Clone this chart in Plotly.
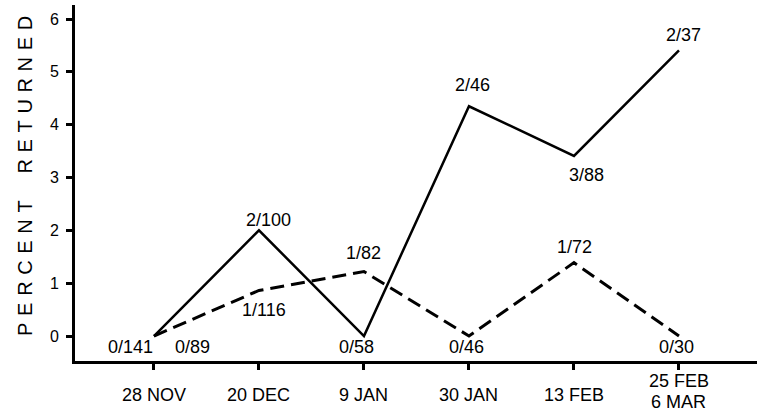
import plotly.graph_objects as go

# Sampling dates (last one spans two dates)
dates = ["28 NOV", "20 DEC", "9 JAN", "30 JAN", "13 FEB", "25 FEB<br>6 MAR"]

# Returned / released counts for each series
solid_returned = [0, 2, 0, 2, 3, 2]
solid_released = [141, 100, 58, 46, 88, 37]
dashed_returned = [0, 1, 1, 0, 1, 0]
dashed_released = [89, 116, 82, 46, 72, 30]

solid_pct = [100 * r / n for r, n in zip(solid_returned, solid_released)]
dashed_pct = [100 * r / n for r, n in zip(dashed_returned, dashed_released)]

y_ticks = [0, 1, 2, 3, 4, 5, 6]

# Label offsets (px) relative to each point
solid_offsets = [(-23, -11), (10, 10), (-7, -11), (4, 21), (13, -19), (5, 15)]
dashed_offsets = [(39, -11), (5, -20), (0, 19), (-2, -11), (1, 16), (-2, -11)]

FONT = "Liberation Sans, Arial, sans-serif"
xs = list(range(len(dates)))

fig = go.Figure()
fig.add_trace(go.Scatter(
    x=xs, y=dashed_pct, mode="lines",
    line=dict(color="black", width=3, dash="14px,7px"),
    hoverinfo="skip", showlegend=False,
))
fig.add_trace(go.Scatter(
    x=xs, y=solid_pct, mode="lines",
    line=dict(color="black", width=2.5),
    hoverinfo="skip", showlegend=False,
))

annotations = []
for ret, rel, pct, xi, (dx, dy) in zip(solid_returned, solid_released, solid_pct, xs, solid_offsets):
    annotations.append(dict(x=xi, y=pct, text=f"{ret}/{rel}", showarrow=False,
                            xshift=dx, yshift=dy, font=dict(size=18, family=FONT, color="black")))
for ret, rel, pct, xi, (dx, dy) in zip(dashed_returned, dashed_released, dashed_pct, xs, dashed_offsets):
    annotations.append(dict(x=xi, y=pct, text=f"{ret}/{rel}", showarrow=False,
                            xshift=dx, yshift=dy, font=dict(size=18, family=FONT, color="black")))

# Date labels under the axis; two-line labels are stacked tightly
for xi, d in zip(xs, dates):
    lines = d.split("<br>")
    if len(lines) == 1:
        shifts = [-34]
    else:
        shifts = [-20 - 21 * k for k in range(len(lines))]
    for line, sh in zip(lines, shifts):
        annotations.append(dict(x=xi, xref="x", y=0, yref="paper", yanchor="middle",
                                yshift=sh, text=line, showarrow=False,
                                font=dict(size=18, family=FONT, color="black")))

# Spaced-out axis title
title = "\u2004".join("PERCENT RETURNED").replace("\u2004 \u2004", "\u2004\u2004\u2004\u2004")
annotations.append(dict(x=-0.0733, xref="paper", y=0.52, yref="paper", textangle=-90,
                        text=title, showarrow=False, xanchor="center", yanchor="middle",
                        font=dict(size=20, family=FONT, color="black")))

fig.update_layout(
    width=757, height=415,
    margin=dict(l=75, r=0, t=5, b=54),
    paper_bgcolor="white", plot_bgcolor="white",
    annotations=annotations,
    xaxis=dict(range=[-0.752, 5.743], tickvals=xs, showticklabels=False,
               ticks="outside", ticklen=6, tickwidth=2.5, tickcolor="black",
               showline=True, linecolor="black", linewidth=3,
               showgrid=False, zeroline=False, fixedrange=True),
    yaxis=dict(range=[-0.473, 6.265], tickvals=y_ticks,
               ticks="outside", ticklen=6, tickwidth=2.5, tickcolor="black",
               showline=True, linecolor="black", linewidth=3,
               ticklabelstandoff=4,
               tickfont=dict(size=16, family=FONT, color="black"),
               showgrid=False, zeroline=False, fixedrange=True),
)

fig.write_html("out.html", config={"displayModeBar": False})
